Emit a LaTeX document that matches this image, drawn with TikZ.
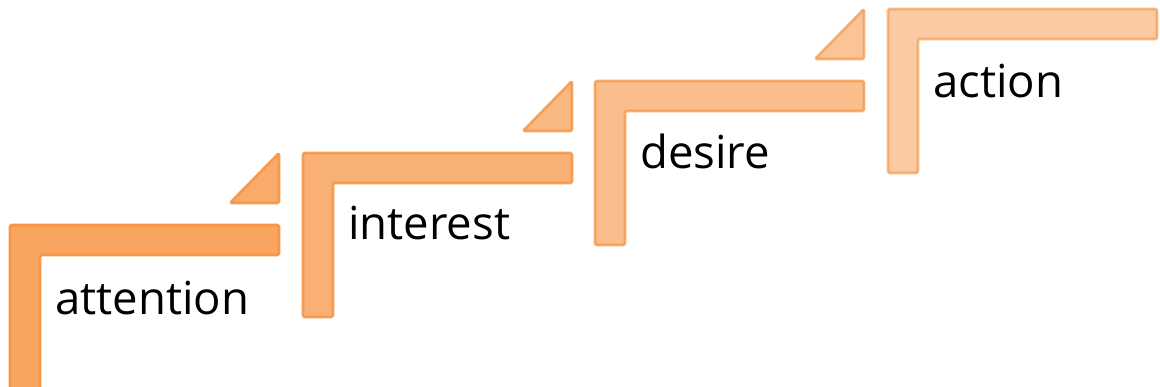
\documentclass[tikz,border=0pt]{standalone}
\usepackage{fontspec}
\setmainfont{Open Sans}[Ligatures=NoCommon]
\definecolor{accent}{HTML}{F79646}
\begin{document}
\begin{tikzpicture}[x=1pt,y=-1pt,
  stepshape/.style={fill=accent,draw=accent,line width=2.6pt,rounded corners=1.5pt,line join=round},
  label/.style={anchor=base west,inner sep=0pt,font=\fontsize{45.5}{54}\selectfont,text=black}]
\useasboundingbox (0,0) rectangle (1160,387);
\begin{scope}
\clip (0,0) rectangle (1160,387);
% L shapes
\foreach \X/\Y/\fo/\dro in {10/225/0.86/1, 303/153/0.75/0.9, 595/81/0.62/0.78, 888/9/0.5/0.66}{
  \draw[stepshape,fill opacity=\fo,draw opacity=\dro]
    (\X,\Y) -- (\X+269,\Y) -- (\X+269,\Y+30) -- (\X+30,\Y+30) -- (\X+30,\Y+164) -- (\X,\Y+164) -- cycle;
}
% triangles
\foreach \R/\T/\fo/\dro in {279/153/0.8/0.95, 572/81/0.68/0.85, 864/9/0.56/0.72}{
  \draw[stepshape,fill opacity=\fo,draw opacity=\dro]
    (\R-49,\T+50) -- (\R,\T) -- (\R,\T+50) -- cycle;
}
\end{scope}
\node[label] (attention) at (55,315) {attention};
\node[label] (interest) at (348,240) {interest};
\node[label] (desire) at (640,169) {desire};
\node[label] (action) at (933,98) {action};
\end{tikzpicture}
\end{document}
